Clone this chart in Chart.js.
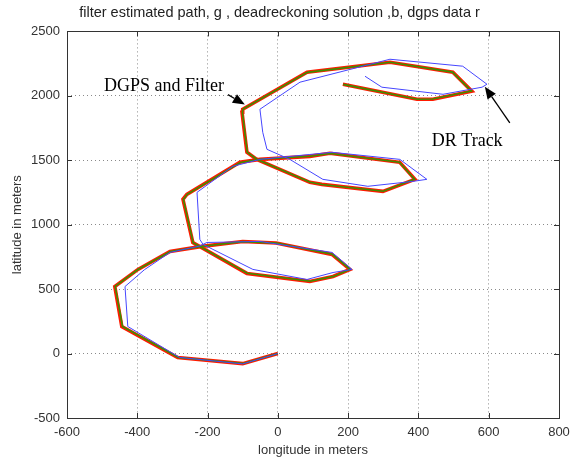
<!DOCTYPE html>
<html>
<head>
<meta charset="utf-8">
<script src="https://cdn.jsdelivr.net/npm/chart.js@4/dist/chart.umd.min.js"></script>
<style>
  html, body { margin: 0; padding: 0; background: #fff; }
</style>
</head>
<body>
<canvas id="pathChart" width="570" height="461"></canvas>
<script>
// tick labels
const xTicks = [-600, -400, -200, 0, 200, 400, 600, 800];
const yTicks = [-500, 0, 500, 1000, 1500, 2000, 2500];

// dgps data (red)
const dgpsLon = [0, -100, -285, -444, -464, -398, -307, -216, -100, -5, 154, 205, 157, 91, -88, -242, -270, -259, -108, -51, 91, 148, 347, 390, 299, 125, 91, -60, -88, -102, -100, 83, 319, 498, 552, 441, 396, 185];
const dgpsLat = [0, -78, -31, 210, 520, 653, 793, 832, 870, 858, 769, 653, 598, 560, 622, 862, 1197, 1235, 1484, 1507, 1530, 1554, 1484, 1352, 1259, 1313, 1329, 1507, 1562, 1873, 1896, 2183, 2261, 2183, 2036, 1974, 1974, 2090];

// filter estimate (green)
const filterLon = [0, -98, -283, -442, -463, -397, -306, -214, -99, -4, 155, 206, 158, 92, -87, -241, -269, -258, -107, -50, 92, 149, 346, 389, 300, 126, 92, -59, -87, -101, -99, 84, 320, 497, 551, 440, 397, 186];
const filterLat = [0, -77, -30, 211, 521, 654, 792, 833, 869, 857, 770, 654, 599, 561, 623, 861, 1196, 1236, 1483, 1508, 1531, 1553, 1485, 1353, 1260, 1312, 1330, 1506, 1561, 1872, 1897, 2182, 2260, 2184, 2037, 1975, 1973, 2089];

// dead reckoning solution (blue)
const drLon = [0, -100, -280, -427, -435, -380, -307, -222, -202, -51, 154, 211, 157, 83, -71, -213, -222, -230, -128, -51, 91, 154, 347, 424, 384, 256, 128, 34, -31, -43, -51, 63, 319, 526, 595, 581, 470, 296, 248];
const drLat = [0, -80, -30, 210, 520, 650, 785, 835, 862, 870, 785, 653, 629, 575, 653, 847, 886, 1251, 1453, 1507, 1545, 1562, 1507, 1352, 1336, 1298, 1352, 1507, 1585, 1717, 1896, 2106, 2284, 2230, 2090, 2067, 2012, 2067, 2152];

const toPts = (lon, lat) => lon.map((v, i) => ({ x: v, y: lat[i] }));

// text callouts with arrows, in data units
const notes = [
  { text: 'DGPS and Filter', x: -495, y: 2040, tail: [-142, 2009], tip: [-94, 1932] },
  { text: 'DR Track', x: 438, y: 1613, tail: [660, 1791], tip: [589, 2071] }
];

const frame = {
  id: 'frame',
  afterDatasetsDraw(chart) {
    const { ctx, chartArea: a, scales: { x, y } } = chart;
    ctx.save();
    ctx.strokeStyle = '#333';
    ctx.lineWidth = 1;
    ctx.strokeRect(Math.round(a.left) + 0.5, Math.round(a.top) + 0.5, Math.round(a.right - a.left), Math.round(a.bottom - a.top));
    // inward ticks on all four sides
    ctx.beginPath();
    xTicks.forEach(v => {
      const px = Math.round(x.getPixelForValue(v)) + 0.5;
      ctx.moveTo(px, a.bottom); ctx.lineTo(px, a.bottom - 5);
      ctx.moveTo(px, a.top); ctx.lineTo(px, a.top + 5);
    });
    yTicks.forEach(v => {
      const py = Math.round(y.getPixelForValue(v)) + 0.5;
      ctx.moveTo(a.left, py); ctx.lineTo(a.left + 5, py);
      ctx.moveTo(a.right, py); ctx.lineTo(a.right - 5, py);
    });
    ctx.stroke();

    // callouts
    ctx.fillStyle = '#000';
    ctx.strokeStyle = '#000';
    ctx.font = '18px "Liberation Serif", "Times New Roman", serif';
    ctx.textBaseline = 'alphabetic';
    notes.forEach(n => {
      ctx.fillText(n.text, x.getPixelForValue(n.x), y.getPixelForValue(n.y));
      const x0 = x.getPixelForValue(n.tail[0]), y0 = y.getPixelForValue(n.tail[1]);
      const x1 = x.getPixelForValue(n.tip[0]), y1 = y.getPixelForValue(n.tip[1]);
      const ang = Math.atan2(y1 - y0, x1 - x0);
      const hl = 12, hw = 5;
      const bx = x1 - hl * Math.cos(ang), by = y1 - hl * Math.sin(ang);
      ctx.lineWidth = 1.3;
      ctx.beginPath();
      ctx.moveTo(x0, y0); ctx.lineTo(bx, by);
      ctx.stroke();
      ctx.beginPath();
      ctx.moveTo(x1, y1);
      ctx.lineTo(bx + hw * Math.sin(ang), by - hw * Math.cos(ang));
      ctx.lineTo(bx - hw * Math.sin(ang), by + hw * Math.cos(ang));
      ctx.closePath();
      ctx.fill();
    });
    ctx.restore();
  }
};

const tickFont = { family: '"Liberation Sans", Arial, sans-serif', size: 13 };

new Chart(document.getElementById('pathChart').getContext('2d'), {
  type: 'scatter',
  data: {
    datasets: [
      { label: 'dead reckoning', data: toPts(drLon, drLat), showLine: true, borderColor: '#4646ff', borderWidth: 1, pointRadius: 0, fill: false },
      { label: 'filter', data: toPts(filterLon, filterLat), showLine: true, borderColor: '#3d8f00', borderWidth: 1.6, pointRadius: 0, fill: false },
      { label: 'dgps', data: toPts(dgpsLon, dgpsLat), showLine: true, borderColor: '#ff1a00', borderWidth: 3.6, pointRadius: 0, fill: false }
    ]
  },
  options: {
    responsive: false,
    animation: false,
    layout: { padding: { left: 0, right: 11, top: 0, bottom: 0 } },
    plugins: {
      legend: { display: false },
      tooltip: { enabled: false },
      title: {
        display: true,
        text: 'filter estimated path, g , deadreckoning solution ,b, dgps data r',
        color: '#222',
        font: { family: '"Liberation Sans", Arial, sans-serif', size: 14.5, weight: 'normal' },
        padding: { top: 4, bottom: 10 }
      }
    },
    scales: {
      x: {
        type: 'linear',
        min: -600, max: 800,
        afterBuildTicks: s => { s.ticks = xTicks.map(v => ({ value: v })); },
        afterFit: s => { s.height = 43; s.paddingRight = 0; s.paddingLeft = 0; },
        ticks: { color: '#333', font: tickFont, padding: 7, maxRotation: 0, autoSkip: false, callback: v => String(v) },
        grid: { color: '#8a8a8a', drawTicks: false },
        border: { display: false, dash: [1, 3] },
        title: { display: true, text: 'longitude in meters', color: '#333', font: tickFont, padding: { top: 0, bottom: 3 } }
      },
      y: {
        type: 'linear',
        min: -500, max: 2500,
        afterBuildTicks: s => { s.ticks = yTicks.map(v => ({ value: v })); },
        afterFit: s => { s.width = 67; },
        ticks: { color: '#333', font: tickFont, padding: 7, autoSkip: false, callback: v => String(v) },
        grid: { color: '#8a8a8a', drawTicks: false },
        border: { display: false, dash: [1, 3] },
        title: { display: true, text: 'latitude in meters', color: '#333', font: tickFont, padding: { top: 10, bottom: 0 } }
      }
    }
  },
  plugins: [frame]
});
</script>
</body>
</html>
